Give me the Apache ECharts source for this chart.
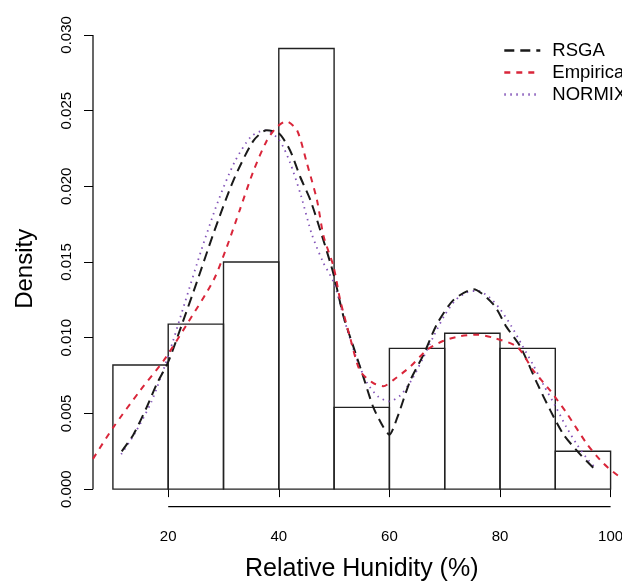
<!DOCTYPE html>
<html>
<head>
<meta charset="utf-8">
<script src="https://cdn.jsdelivr.net/npm/echarts@6/dist/echarts.min.js"></script>
<style>
html,body{margin:0;padding:0;background:#fff;overflow:hidden;}
#chart{width:622px;height:581px;}
</style>
</head>
<body>
<div id="chart"></div>
<script>
// ---- data ----
const binEdges = [10, 20, 30, 40, 50, 60, 70, 80, 90, 100];
const binDensity = [0.0082, 0.0109, 0.0150, 0.0291, 0.0054, 0.0093, 0.0103, 0.0093, 0.0025];

const xTicks = [20, 40, 60, 80, 100];
const yTicks = [0, 0.005, 0.010, 0.015, 0.020, 0.025, 0.030];

const rsgaX = [11.6, 13.7, 16.1, 18, 20, 22.5, 25.2, 28.2, 31.8, 35.4, 37.8, 40, 42, 43.9, 45.7, 47.5, 49.9, 51.7, 53.5, 55.3, 57.1, 58.9, 60, 61.4, 63.8, 66.2, 68.6, 71.6, 75.2, 78.8, 81.2, 83.7, 86.7, 89.1, 91.5, 94.5, 96.9];
const rsgaY = [0.0025, 0.0036, 0.0054, 0.0070, 0.0084, 0.0109, 0.0137, 0.0169, 0.0204, 0.0230, 0.0237, 0.0235, 0.0224, 0.0206, 0.0191, 0.0171, 0.0142, 0.0114, 0.0094, 0.0074, 0.0054, 0.0041, 0.0036, 0.0047, 0.0072, 0.0089, 0.0109, 0.0125, 0.0132, 0.0122, 0.0107, 0.0094, 0.0070, 0.0052, 0.0036, 0.0023, 0.0014];

const empX = [6.4, 10.1, 14.9, 19.2, 23.4, 28.2, 30.6, 33.0, 35.4, 37.8, 39.6, 41.3, 43.3, 45.1, 46.9, 48.1, 49.9, 51.1, 52.9, 54.7, 57.1, 58.9, 60.7, 63.8, 66.8, 69.8, 72.8, 75.8, 78.8, 83.1, 86.1, 89.1, 92.1, 95.7, 98.7, 101.7, 103.6];
const empY = [0.0020, 0.0041, 0.0065, 0.0085, 0.0109, 0.0138, 0.0160, 0.0185, 0.0210, 0.0230, 0.0239, 0.0243, 0.0237, 0.0215, 0.0191, 0.0167, 0.0147, 0.0125, 0.0100, 0.0078, 0.0070, 0.0068, 0.0072, 0.0081, 0.0092, 0.0098, 0.0101, 0.0102, 0.0100, 0.0094, 0.0078, 0.0065, 0.0050, 0.0030, 0.0017, 0.0008, 0.0005];

const normixX = [11.5, 14, 17, 20, 23, 26, 29, 32, 35, 37.5, 40, 42, 44, 46, 48, 50, 52, 54, 56, 58, 60, 62, 64, 66, 68, 70, 72, 74, 76, 78, 80, 82, 84, 86, 88, 90, 92, 94, 96, 97.5];
const normixY = [0.0023, 0.0037, 0.0058, 0.0088, 0.0123, 0.0158, 0.0190, 0.0216, 0.0233, 0.0237, 0.0231, 0.0216, 0.0194, 0.0168, 0.0150, 0.0136, 0.0110, 0.0087, 0.0070, 0.0061, 0.0058, 0.0062, 0.0072, 0.0086, 0.0101, 0.0115, 0.0125, 0.0130, 0.0131, 0.0127, 0.0119, 0.0108, 0.0095, 0.0082, 0.0068, 0.0055, 0.0041, 0.0029, 0.0019, 0.0013];

// ---- layout constants ----
const X_MIN = 6.4, X_MAX = 103.6;
const Y_MIN = -0.00116, Y_MAX = 0.03026;
const FONT = '"Liberation Sans", Arial, sans-serif';

const zip = (xs, ys) => xs.map((x, i) => [x, ys[i]]);
const bins = binDensity.map((d, i) => [binEdges[i], binEdges[i + 1], d]);

const chart = echarts.init(document.getElementById('chart'), null, {renderer: 'canvas'});

chart.setOption({
  animation: false,
  backgroundColor: '#ffffff',
  textStyle: {fontFamily: FONT, color: '#000'},
  grid: {left: 93, top: 31, width: 537.5, height: 475.7, containLabel: false, outerBoundsMode: 'none'},
  xAxis: {
    type: 'value', min: X_MIN, max: X_MAX,
    axisLine: {show: false},
    splitLine: {show: false},
    axisTick: {show: true, length: 8, customValues: xTicks, lineStyle: {color: '#000', width: 1}},
    axisLabel: {customValues: xTicks, margin: 23, fontSize: 15, color: '#000', fontFamily: FONT,
      formatter: v => String(v)},
    name: 'Relative Hunidity (%)', nameLocation: 'middle', nameGap: 50,
    nameTextStyle: {fontSize: 25, color: '#000', fontFamily: FONT}
  },
  yAxis: {
    type: 'value', min: Y_MIN, max: Y_MAX,
    axisLine: {show: false},
    splitLine: {show: false},
    axisTick: {show: true, length: 9, customValues: yTicks, lineStyle: {color: '#000', width: 1}},
    axisLabel: {customValues: yTicks, rotate: 90, margin: 19, fontSize: 15, color: '#000', fontFamily: FONT,
      formatter: v => v.toFixed(3)},
    name: 'Density', nameLocation: 'middle', nameGap: 56, nameRotate: 90,
    nameTextStyle: {fontSize: 24, color: '#000', fontFamily: FONT}
  },
  legend: {
    orient: 'vertical', left: 503, top: 41, padding: 0,
    itemWidth: 36, itemHeight: 14, itemGap: 3,
    itemStyle: {opacity: 0},
    lineStyle: {width: 2.6},
    textStyle: {fontSize: 18.5, lineHeight: 19, color: '#000', fontFamily: FONT, padding: [0, 0, 0, 7]},
    data: ['RSGA', 'Empirical', 'NORMIX']
  },
  series: [
    {
      type: 'custom', name: 'hist', silent: true, z: 1,
      data: bins,
      encode: {x: [0, 1], y: 2},
      renderItem: function (params, api) {
        const p0 = api.coord([api.value(0), api.value(2)]);
        const p1 = api.coord([api.value(1), 0]);
        return {
          type: 'rect',
          shape: {x: p0[0], y: p0[1], width: p1[0] - p0[0], height: p1[1] - p0[1]},
          style: {fill: 'rgba(255,255,255,0)', stroke: '#222', lineWidth: 1.4}
        };
      }
    },
    {
      type: 'custom', name: 'axes', silent: true, z: 1, clip: false,
      data: [[0]],
      renderItem: function (params, api) {
        const a0 = api.coord([X_MIN, yTicks[0]]);
        const a1 = api.coord([X_MIN, yTicks[yTicks.length - 1]]);
        const b0 = api.coord([xTicks[0], Y_MIN]);
        const b1 = api.coord([xTicks[xTicks.length - 1], Y_MIN]);
        return {
          type: 'group',
          children: [
            {type: 'line', shape: {x1: a0[0], y1: a0[1], x2: a1[0], y2: a1[1]}, style: {stroke: '#000', lineWidth: 1.2}},
            {type: 'line', shape: {x1: b0[0], y1: b0[1], x2: b1[0], y2: b1[1]}, style: {stroke: '#000', lineWidth: 1.2}}
          ]
        };
      }
    },
    {
      type: 'line', name: 'RSGA', data: zip(rsgaX, rsgaY), showSymbol: false, symbol: 'none',
      smooth: 0.25, z: 3, color: '#1a1a1a',
      lineStyle: {color: '#1a1a1a', width: 2, type: [10, 6]}
    },
    {
      type: 'line', name: 'Empirical', data: zip(empX, empY), showSymbol: false, symbol: 'none',
      smooth: 0.25, z: 3, color: '#d9263a',
      lineStyle: {color: '#d9263a', width: 2, type: [6, 6]}
    },
    {
      type: 'line', name: 'NORMIX', data: zip(normixX, normixY), showSymbol: false, symbol: 'none',
      smooth: 0.25, z: 2, color: '#8354b8',
      lineStyle: {color: '#8354b8', width: 1.8, type: [1.5, 4.5]}
    }
  ]
});
</script>
</body>
</html>
